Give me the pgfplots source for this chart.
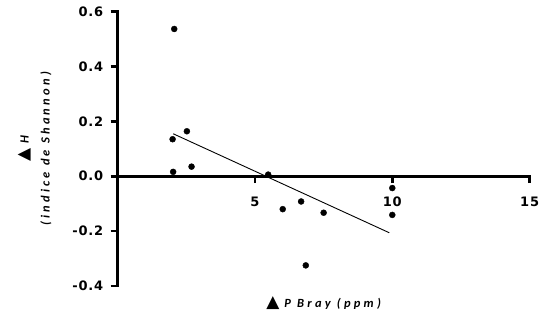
\documentclass[border=0pt]{standalone}
\usepackage{fontspec}
\usepackage{pgfplots}
\pgfplotsset{compat=1.18}
\newfontfamily\tickfont[LetterSpace=6]{DejaVu Sans}
\newfontfamily\labfont[LetterSpace=26]{Carlito}
\newfontfamily\symfont{DejaVu Sans}
\begin{document}
\begin{tikzpicture}
\begin{axis}[
  scale only axis,
  width=412pt, height=274.3pt,
  xmin=0, xmax=15, ymin=-0.4, ymax=0.6,
  axis x line=middle, axis y line=left,
  axis line style={-, line width=2.6pt, line cap=rect},
  hide obscured x ticks=false, hide obscured y ticks=false,
  xtick={5,10,15}, xticklabels={5,10,15},
  ytick={-0.4,-0.2,0,0.2,0.4,0.6}, yticklabels={-0.4,-0.2,0.0,0.2,0.4,0.6},
  tick align=outside, major tick length=7pt,
  tick style={line width=2.6pt, black},
  ticklabel style={font=\tickfont\bfseries\fontsize{13}{13}\selectfont},
  xticklabel style={yshift=-10pt},
  yticklabel style={xshift=-4pt},
  every axis x label/.style={at={(axis description cs:0.5,0)}, anchor=center, yshift=-17pt},
  every axis y label/.style={at={(axis description cs:0,0.5)}, xshift=-83pt, anchor=center, rotate=90, align=center},
  xlabel={{\symfont\fontsize{17}{17}\selectfont ▲}\hspace{5pt}{\labfont\bfseries\itshape\fontsize{12.5}{12.5}\selectfont P Bray (ppm)}},
  ylabel={{\symfont\fontsize{17}{17}\selectfont ▲}\hspace{5pt}{\labfont\bfseries\itshape\fontsize{12.5}{12.5}\selectfont H}\\[9pt]{\labfont\bfseries\itshape\fontsize{12.5}{12.5}\selectfont (indice de Shannon)}},
  clip=false,
]
\addplot[only marks, mark=*, mark size=3pt, black] coordinates {
  (2.06,0.537) (2.00,0.135) (2.52,0.164) (2.02,0.016) (2.69,0.035)
  (5.48,0.006) (6.01,-0.120) (6.68,-0.092) (7.50,-0.133) (6.85,-0.325)
  (10.0,-0.043) (10.0,-0.141)
};
\addplot[black, line width=0.9pt] coordinates {(2.02,0.155) (9.89,-0.206)};
\end{axis}
\pgfresetboundingbox
\path[use as bounding box] ([xshift=-117.7pt,yshift=-31pt]current axis.south west) rectangle ([xshift=9.4pt,yshift=11.7pt]current axis.north east);
\end{tikzpicture}
\end{document}
